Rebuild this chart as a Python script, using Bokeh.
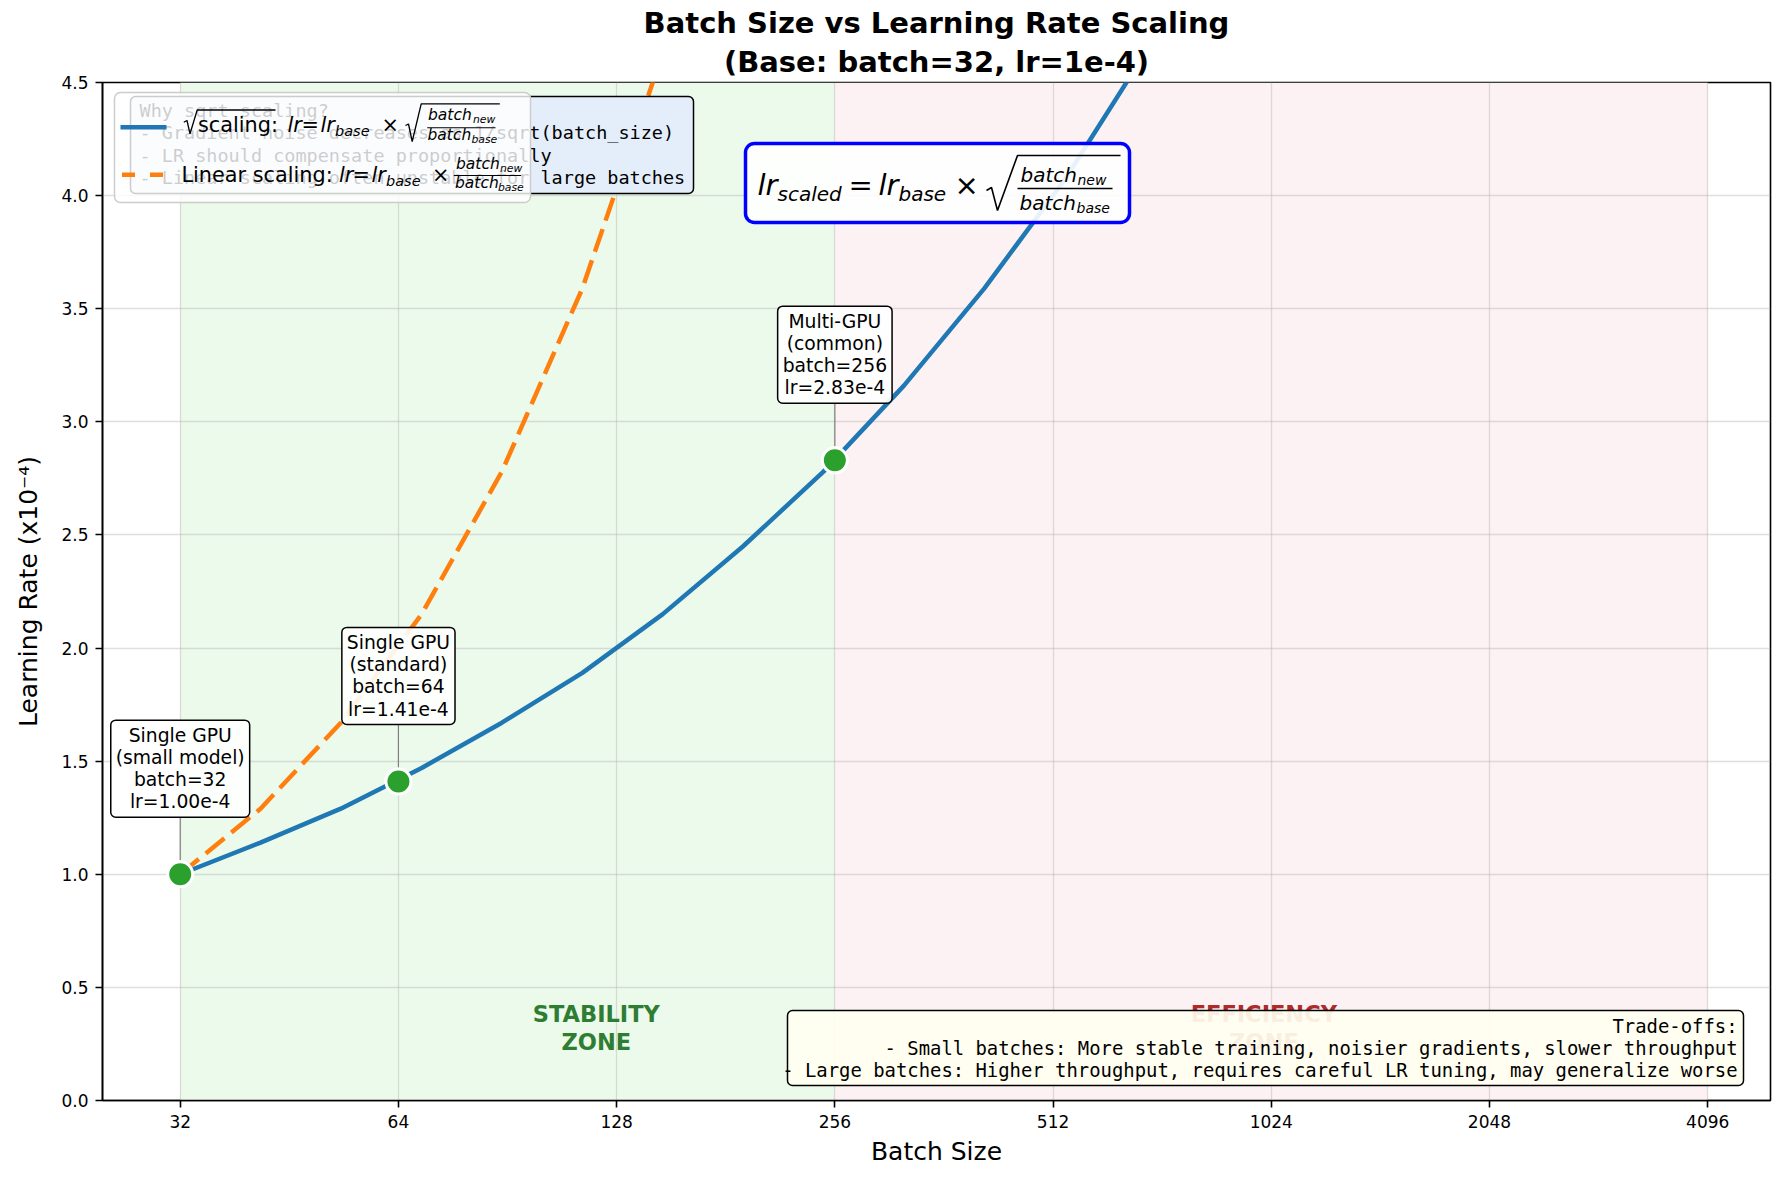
import numpy as np
from bokeh.plotting import figure
from bokeh.models import Range1d, FixedTicker, NumeralTickFormatter, BoxAnnotation, Label, ColumnDataSource, Title
from bokeh.embed import file_html
from bokeh.resources import INLINE

# ---- data -------------------------------------------------------------
batch_sizes = [32, 41.3, 53.3, 68.9, 88.9, 114.8, 148.2, 191.3, 246.9, 318.8, 411.6, 531.3, 685.9, 885.5]
sqrt_lr = [1.00, 1.14, 1.29, 1.47, 1.67, 1.89, 2.15, 2.45, 2.78, 3.16, 3.59, 4.07, 4.63, 5.26]
linear_batch = [32, 41.3, 53.3, 68.9, 88.9, 114.8, 148.2]
linear_lr = [1.00, 1.29, 1.67, 2.15, 2.78, 3.59, 4.63]

milestone_batch = [32, 64, 256]
milestone_lr = [1.00, 1.41, 2.83]
milestone_notes = ["Single GPU\n(small model)", "Single GPU\n(standard)", "Multi-GPU\n(common)"]

x_ticks = [32, 64, 128, 256, 512, 1024, 2048, 4096]
y_ticks = [0.0, 0.5, 1.0, 1.5, 2.0, 2.5, 3.0, 3.5, 4.0, 4.5]

stability_span = (32, 256)
efficiency_span = (256, 4096)
zone_names = ["STABILITY\nZONE", "EFFICIENCY\nZONE"]
zone_x = [120, 1000]
zone_y = 0.32

info_lines = [
    "Why sqrt scaling?",
    "- Gradient noise decreases as 1/sqrt(batch_size)",
    "- LR should compensate proportionally",
    "- Linear scaling often unstable for large batches",
]
tradeoff_lines = [
    "Trade-offs:",
    "- Small batches: More stable training, noisier gradients, slower throughput",
    "- Large batches: Higher throughput, requires careful LR tuning, may generalize worse",
]

# ---- layout -----------------------------------------------------------
W, H = 1785, 1182
FL, FR, FT, FB = 102, 1770, 82, 1100          # plot frame edges in canvas pixels
X0, X1 = 25, 5000
Y0, Y1 = 0.0, 4.5
SANS = "DejaVu Sans"
MONO = "DejaVu Sans Mono"


def dx(px):
    return float(2 ** (np.log2(X0) + (px - FL) / (FR - FL) * np.log2(X1 / X0)))


def dy(py):
    return Y0 + (FB - py) / (FB - FT) * (Y1 - Y0)


def px_h(n):
    return n * (Y1 - Y0) / (FB - FT)


p = figure(width=W, height=H, x_axis_type="log",
           x_range=Range1d(X0, X1), y_range=Range1d(Y0, Y1),
           output_backend="svg", toolbar_location=None,
           min_border_left=FL, min_border_right=W - FR,
           min_border_top=FT, min_border_bottom=H - FB,
           title="Batch Size vs Learning Rate Scaling")

p.background_fill_color = "white"
p.border_fill_color = "white"
p.outline_line_color = "black"
p.outline_line_width = 1.6

p.title.align = "center"
p.title.text_font = SANS
p.title.text_font_size = "29px"
p.title.text_font_style = "bold"
p.title.text_color = "black"
p.title.standoff = 0
p.add_layout(Title(text="(Base: batch=32, lr=1e-4)", align="center",
                   text_font=SANS, text_font_size="29px", text_font_style="bold",
                   text_color="black", standoff=7), "above")

# axes
p.xaxis.ticker = FixedTicker(ticks=x_ticks)
p.xaxis.formatter = NumeralTickFormatter(format="0")
p.yaxis.ticker = FixedTicker(ticks=y_ticks)
p.yaxis.formatter = NumeralTickFormatter(format="0.0")
p.xgrid.ticker = FixedTicker(ticks=x_ticks)
p.ygrid.ticker = FixedTicker(ticks=y_ticks)
for ax in (p.xaxis, p.yaxis):
    ax.major_label_text_font = SANS
    ax.major_label_text_font_size = "17px"
    ax.major_label_text_color = "black"
    ax.major_tick_out = 7
    ax.major_tick_in = 0
    ax.major_tick_line_width = 1.6
    ax.minor_tick_line_color = None
    ax.axis_line_width = 1.6
    ax.axis_label_text_font = SANS
    ax.axis_label_text_font_size = "25px"
    ax.axis_label_text_font_style = "normal"
    ax.axis_label_text_color = "black"
    ax.major_label_standoff = 7
p.xaxis.axis_label = "Batch Size"
p.yaxis.axis_label = "Learning Rate (x10⁻⁴)"
p.xaxis.axis_label_standoff = 6
p.yaxis.axis_label_standoff = 15

for g in (p.xgrid, p.ygrid):
    g.grid_line_color = "#b0b0b0"
    g.grid_line_alpha = 0.4
    g.grid_line_width = 1.3

# background zones
p.add_layout(BoxAnnotation(left=stability_span[0], right=stability_span[1],
                           fill_color="#ecfaeb", fill_alpha=1.0, line_alpha=0, level="image"))
p.add_layout(BoxAnnotation(left=efficiency_span[0], right=efficiency_span[1],
                           fill_color="#fdf2f3", fill_alpha=1.0, line_alpha=0, level="image"))

# scaling curves
p.line(batch_sizes, sqrt_lr, line_color="#1f77b4", line_width=4.5)
p.line(linear_batch, linear_lr, line_color="#ff7f0e", line_width=4.5, line_dash="24 9")

# milestones: connectors, markers, note boxes
NOTE_GAP = 57
ms = ColumnDataSource(dict(x=milestone_batch, y=milestone_lr,
                           y0=[v + px_h(14) for v in milestone_lr],
                           y1=[v + px_h(NOTE_GAP) for v in milestone_lr]))
p.segment(x0="x", y0="y0", x1="x", y1="y1", source=ms, line_color="#808080", line_width=1.2)
p.scatter("x", "y", source=ms, size=25, fill_color="#2ca02c", line_color="white", line_width=3)

for b, lr, note in zip(milestone_batch, milestone_lr, milestone_notes):
    p.add_layout(Label(x=b, y=lr, y_offset=NOTE_GAP, text=f"{note}\nbatch={b}\nlr={lr:.2f}e-4",
                       text_align="center", text_baseline="bottom",
                       text_font=SANS, text_font_size="18.75px", text_line_height=1.05,
                       text_color="black",
                       background_fill_color="white", background_fill_alpha=0.9,
                       border_line_color="black", border_line_width=1.5,
                       border_radius=5, padding=5))

# zone captions
zone_colors = ["#2e7d32", "#b02a2a"]
for name, zx, col in zip(zone_names, zone_x, zone_colors):
    p.add_layout(Label(x=zx, y=zone_y, text=name, text_align="center", text_baseline="middle",
                       text_font=SANS, text_font_size="22.5px", text_font_style="bold",
                       text_color=col, text_alpha=1.0, text_line_height=1.1))

# trade-offs box
p.add_layout(BoxAnnotation(left=dx(787), right=dx(1743), top=dy(1010), bottom=dy(1085),
                           fill_color="#fffff0", fill_alpha=0.92, line_color="black",
                           line_alpha=1.0, line_width=1.5, border_radius=5))
for i, line in enumerate(tradeoff_lines):
    p.add_layout(Label(x=dx(1737), y=dy(1025 + 22 * i), text=line, text_align="right",
                       text_baseline="middle", text_font=MONO, text_font_size="18.9px",
                       text_color="black"))

# info box (partly behind the legend)
p.add_layout(BoxAnnotation(left=dx(130), right=dx(693), top=dy(96), bottom=dy(193),
                           fill_color="#e4eefa", fill_alpha=1.0, line_color="black",
                           line_alpha=1.0, line_width=1.5, border_radius=5))
for i, line in enumerate(info_lines):
    p.add_layout(Label(x=dx(139), y=dy(110 + 22.3 * i), text=line, text_align="left",
                       text_baseline="middle", text_font=MONO, text_font_size="18.5px",
                       text_color="black"))


def piece(px, baseline, text, size, italic=False):
    # place a run of text so that its alphabetic baseline sits at the given pixel row
    p.add_layout(Label(x=dx(px), y=dy(baseline - 0.346 * size), text=text, text_align="left",
                       text_baseline="middle", text_font=SANS,
                       text_font_size=f"{size}px",
                       text_font_style="italic" if italic else "normal",
                       text_color="black"))


def stroke(points, width=1.3):
    p.line([dx(a) for a, _ in points], [dy(b) for _, b in points],
           line_color="black", line_width=width, level="overlay")


# legend
p.add_layout(BoxAnnotation(left=dx(114), right=dx(530), top=dy(92), bottom=dy(202),
                           fill_color="white", fill_alpha=0.8, line_color="#cccccc",
                           line_alpha=1.0, line_width=1.5, border_radius=6))
p.line([dx(120), dx(166)], [dy(126.7), dy(126.7)], line_color="#1f77b4", line_width=4.5, level="overlay")
p.line([dx(121.5), dx(165)], [dy(174.3), dy(174.3)], line_color="#ff7f0e", line_width=4.5,
       line_dash="13 15", level="overlay")

# entry 1: sqrt scaling
stroke([(183.3, 121.7), (186.5, 120), (189.5, 133.3), (196.7, 109.5), (275, 109.5)])
piece(197.5, 131.7, "scaling:", 20.8)
piece(287, 131.7, "lr", 20.8, True)
piece(301, 131.7, "=", 20.8)
piece(320, 131.7, "lr", 20.8, True)
piece(334.5, 135.7, "base", 14.5, True)
piece(381, 131.7, "×", 20.8)
stroke([(405, 125), (408, 123.5), (411.7, 141), (420.7, 103.3), (499.3, 103.3)])
piece(427.5, 120, "batch", 15.5, True)
piece(472.5, 122.3, "new", 10.8, True)
stroke([(426.7, 127.3), (495, 127.3)], 1.1)
piece(427, 140, "batch", 15.5, True)
piece(471, 142.3, "base", 10.8, True)

# entry 2: linear scaling
piece(181, 181.7, "Linear scaling:", 20.8)
piece(338.5, 181.7, "lr", 20.8, True)
piece(352, 181.7, "=", 20.8)
piece(371, 181.7, "lr", 20.8, True)
piece(385.5, 185.5, "base", 14.5, True)
piece(431.5, 181.7, "×", 20.8)
piece(455.5, 169.3, "batch", 15.5, True)
piece(499.5, 171.5, "new", 10.8, True)
stroke([(453.3, 175), (520.7, 175)], 1.1)
piece(454.5, 188.3, "batch", 15.5, True)
piece(497.5, 190.5, "base", 10.8, True)

# formula box
p.add_layout(BoxAnnotation(left=dx(745), right=dx(1129), top=dy(143), bottom=dy(222),
                           fill_color="white", fill_alpha=0.9, line_color="#0000ff",
                           line_alpha=1.0, line_width=3.5, border_radius=9))
piece(757, 195, "lr", 29, True)
piece(777, 200, "scaled", 20, True)
piece(848, 195, "=", 29)
piece(878, 195, "lr", 29, True)
piece(898, 200, "base", 20, True)
piece(954, 195, "×", 29)
stroke([(986, 190), (991, 187), (997, 210), (1017, 155), (1120, 155)], 1.6)
piece(1020, 181, "batch", 20, True)
piece(1077, 184, "new", 14, True)
stroke([(1017, 188), (1112, 188)], 1.4)
piece(1019, 209, "batch", 20, True)
piece(1076, 212, "base", 14, True)

open("out.html", "w").write(file_html(p, INLINE))
